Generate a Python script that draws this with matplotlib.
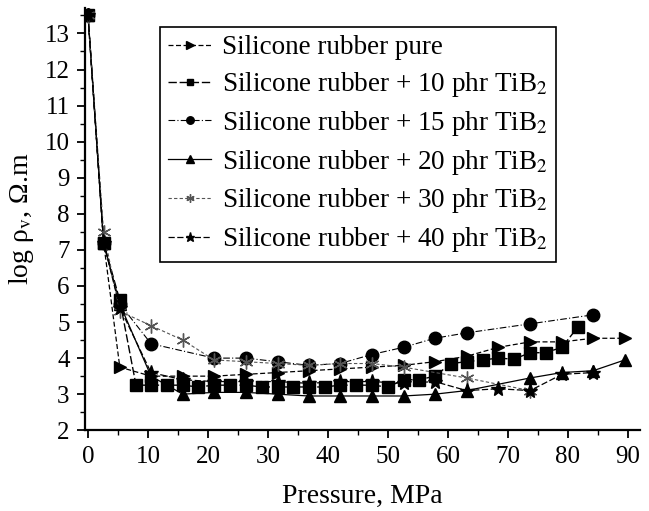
import matplotlib
matplotlib.use("Agg")
import matplotlib.pyplot as plt
from matplotlib.ticker import MultipleLocator

plt.rcParams["font.family"] = ["Liberation Serif", "DejaVu Serif"]
plt.rcParams["mathtext.fontset"] = "stix"

# pressure, MPa / log rho_v
x_pure = [0, 2.6, 5.3, 10.5, 15.8, 21, 26.3, 31.6, 36.8, 42, 47.3, 52.6, 57.8,
          63.1, 68.4, 73.7, 79, 84.2, 89.5]
y_pure = [13.5, 7.2, 3.75, 3.5, 3.5, 3.5, 3.55, 3.6, 3.65, 3.7, 3.75, 3.8, 3.9,
          4.05, 4.3, 4.45, 4.45, 4.55, 4.55]

x_10 = [0, 2.6, 5.3, 8.0, 10.5, 13.2, 15.8, 18.4, 21, 23.7, 26.3, 29, 31.6, 34.2,
        36.8, 39.5, 42, 44.7, 47.3, 50, 52.6, 55.2, 57.8, 60.5, 63.1, 65.8, 68.4,
        71, 73.7, 76.3, 79, 81.6]
y_10 = [13.5, 7.2, 5.6, 3.25, 3.25, 3.25, 3.25, 3.2, 3.25, 3.25, 3.25, 3.2, 3.2,
        3.2, 3.2, 3.2, 3.25, 3.25, 3.25, 3.2, 3.4, 3.4, 3.5, 3.85, 3.9, 3.95, 4.0,
        3.97, 4.15, 4.15, 4.3, 4.85]

x_15 = [0, 2.6, 5.3, 10.5, 21, 26.3, 31.6, 36.8, 42, 47.3, 52.6, 57.8, 63.1,
        73.7, 84.2]
y_15 = [13.5, 7.2, 5.5, 4.4, 4.0, 4.0, 3.9, 3.8, 3.85, 4.1, 4.3, 4.55, 4.7,
        4.95, 5.2]

x_20 = [0, 2.6, 5.3, 10.5, 15.8, 21, 26.3, 31.6, 36.8, 42, 47.3, 52.6, 57.8,
        63.1, 73.7, 79, 84.2, 89.5]
y_20 = [13.5, 7.2, 5.5, 3.5, 3.0, 3.05, 3.05, 3.0, 2.95, 2.95, 2.95, 2.95, 3.0,
        3.1, 3.45, 3.6, 3.65, 3.95]

x_30 = [0, 2.6, 5.3, 10.5, 15.8, 21, 26.3, 31.6, 36.8, 42, 47.3, 52.6, 63.1, 73.7]
y_30 = [13.5, 7.5, 5.3, 4.9, 4.5, 3.95, 3.9, 3.85, 3.8, 3.85, 3.85, 3.75, 3.45, 3.1]

x_40 = [0, 2.6, 5.3, 10.5, 15.8, 21, 26.3, 31.6, 36.8, 42, 47.3, 52.6, 57.8,
        63.1, 68.4, 73.7, 79, 84.2]
y_40 = [13.5, 7.2, 5.4, 3.6, 3.4, 3.35, 3.35, 3.35, 3.3, 3.35, 3.35, 3.3, 3.35,
        3.1, 3.15, 3.1, 3.55, 3.6]

labels = [
    "Silicone rubber pure",
    "Silicone rubber + 10 phr TiB$_2$",
    "Silicone rubber + 15 phr TiB$_2$",
    "Silicone rubber + 20 phr TiB$_2$",
    "Silicone rubber + 30 phr TiB$_2$",
    "Silicone rubber + 40 phr TiB$_2$",
]

fig = plt.figure(figsize=(6.49, 5.11), dpi=100)
ax = fig.add_axes([0.131, 0.158, 0.855, 0.826])

ax.plot(x_pure, y_pure, marker=">", ms=9, color="black", lw=0.9, ls=(0, (4, 2)), label=labels[0])
ax.plot(x_10, y_10, marker="s", ms=8, color="black", lw=1.0, ls=(0, (6, 2)), label=labels[1])
ax.plot(x_15, y_15, marker="o", ms=9, color="black", lw=0.8, ls=(0, (6, 2, 1, 2)), label=labels[2])
ax.plot(x_20, y_20, marker="^", ms=9, color="black", lw=0.9, ls="-", label=labels[3])
ax.plot(x_30, y_30, marker=(6, 2, 0), ms=10, color="#555555", lw=0.8, ls=(0, (3, 2)), label=labels[4])
ax.plot(x_40, y_40, marker="*", ms=11, color="black", lw=0.9, ls=(0, (5, 2)), label=labels[5])

ax.set_xlim(-0.5, 92)
ax.set_ylim(2, 13.7)
ax.xaxis.set_major_locator(MultipleLocator(10))
ax.xaxis.set_minor_locator(MultipleLocator(5))
ax.yaxis.set_major_locator(MultipleLocator(1))
ax.yaxis.set_minor_locator(MultipleLocator(0.5))
ax.tick_params(which="major", direction="out", length=6, width=1.3, labelsize=18, pad=5)
ax.tick_params(which="minor", direction="out", length=3.5, width=1.0)
ax.spines["top"].set_visible(False)
ax.spines["right"].set_visible(False)
ax.spines["left"].set_linewidth(1.6)
ax.spines["bottom"].set_linewidth(1.6)

ax.set_xlabel("Pressure, MPa", fontsize=20, labelpad=12)
ax.set_ylabel("log ρ$_\\mathrm{v}$, Ω.m", fontsize=20, labelpad=6)

leg = ax.legend(loc="upper left", bbox_to_anchor=(0.135, 0.955), fontsize=19.5,
                frameon=True, fancybox=False, edgecolor="black", framealpha=1,
                markerscale=0.6, handlelength=1.6, handletextpad=0.4,
                labelspacing=0.36, borderpad=0.3, borderaxespad=0)
leg.get_frame().set_linewidth(1.2)

fig.savefig("out.png", dpi=100)
